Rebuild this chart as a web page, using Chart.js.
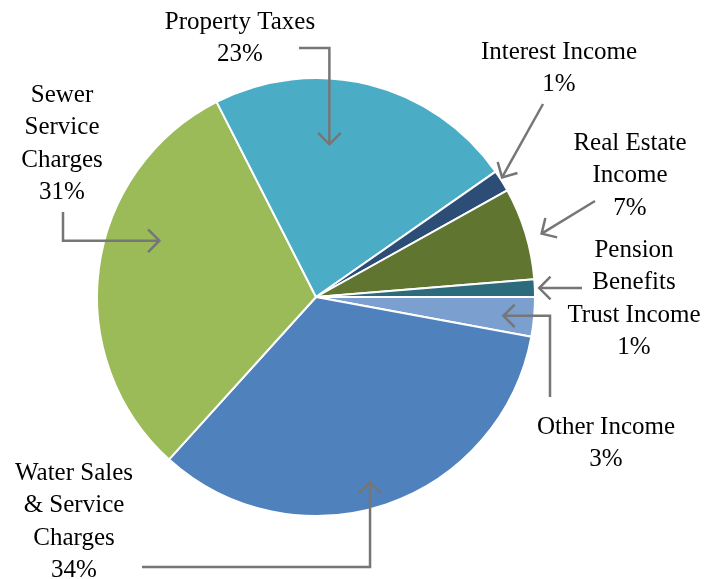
<!DOCTYPE html>
<html lang="en">
<head>
  <meta charset="UTF-8" />
  <title>Revenue Sources</title>
  <script src="https://cdn.jsdelivr.net/npm/chart.js"></script>
  <style>
    html, body { margin: 0; padding: 0; background: #fff; }
    #chart { display: block; }
  </style>
</head>
<body>
  <canvas id="chart" width="715" height="579"></canvas>

  <script>
    // data (slice shares in %, clockwise from 3 o'clock)
    const categories = ['Other Income', 'Water Sales & Service Charges', 'Sewer Service Charges',
                        'Property Taxes', 'Interest Income', 'Real Estate Income', 'Pension Benefits Trust Income'];
    const shares = [2.9, 33.8, 30.8, 22.8, 1.6, 6.8, 1.3];
    const shareLabels = ['3%', '34%', '31%', '23%', '1%', '7%', '1%'];
    const colors = ['#7B9FCE', '#4F81BD', '#9BBB59', '#4BACC6', '#2C4D75', '#5F7530', '#2B6B7B'];

    // label text lines per slice
    const labelLines = [
      ['Other Income'],
      ['Water Sales', '& Service', 'Charges'],
      ['Sewer', 'Service', 'Charges'],
      ['Property Taxes'],
      ['Interest Income'],
      ['Real Estate', 'Income'],
      ['Pension', 'Benefits', 'Trust Income']
    ];

    // where labels sit and how leader lines run (t = position inside slice, rf = radius fraction)
    const labelLayout = [
      { x: 606, y: 427, t: 0.55, rf: 0.86, start: [550, 397], elbow: 'vertical' },
      { x: 74,  y: 473, t: 0.52, rf: 0.88, start: [142, 567], elbow: 'horizontal' },
      { x: 62,  y: 95,  t: 0.61, rf: 0.76, start: [63, 212],  elbow: 'vertical' },
      { x: 240, y: 22,  t: 0.39, rf: 0.70, start: [299, 48],  elbow: 'horizontal' },
      { x: 559, y: 52,  t: 0.38, rf: 1.01, start: [543, 104] },
      { x: 630, y: 143, t: 0.55, rf: 1.07, start: [595, 201] },
      { x: 634, y: 250, t: 0.51, rf: 1.02, start: [582, 288] }
    ];

    const FONT = '25px "Liberation Serif", "Times New Roman", serif';
    const LINE_H = 32.5;

    function drawArrowHead(ctx, from, tip) {
      const ang = Math.atan2(tip[1] - from[1], tip[0] - from[0]);
      const len = 16;
      ctx.beginPath();
      ctx.moveTo(tip[0] - len * Math.cos(ang - Math.PI / 4), tip[1] - len * Math.sin(ang - Math.PI / 4));
      ctx.lineTo(tip[0], tip[1]);
      ctx.lineTo(tip[0] - len * Math.cos(ang + Math.PI / 4), tip[1] - len * Math.sin(ang + Math.PI / 4));
      ctx.stroke();
    }

    const calloutPlugin = {
      id: 'callouts',
      afterDraw(chart) {
        const ctx = chart.ctx;
        const arcs = chart.getDatasetMeta(0).data;
        ctx.save();
        ctx.font = FONT;
        ctx.fillStyle = '#000';
        ctx.textAlign = 'center';
        ctx.textBaseline = 'middle';
        ctx.strokeStyle = '#767676';
        ctx.lineWidth = 2.5;
        ctx.lineJoin = 'miter';

        arcs.forEach((arc, i) => {
          const lay = labelLayout[i];
          const p = arc.getProps(['x', 'y', 'startAngle', 'endAngle', 'outerRadius'], true);
          const a = p.startAngle + lay.t * (p.endAngle - p.startAngle);
          const tip = [p.x + Math.cos(a) * p.outerRadius * lay.rf, p.y + Math.sin(a) * p.outerRadius * lay.rf];

          // leader line
          const pts = [lay.start];
          if (lay.elbow === 'horizontal') pts.push([tip[0], lay.start[1]]);
          if (lay.elbow === 'vertical') pts.push([lay.start[0], tip[1]]);
          pts.push(tip);
          ctx.beginPath();
          ctx.moveTo(pts[0][0], pts[0][1]);
          for (let k = 1; k < pts.length; k++) ctx.lineTo(pts[k][0], pts[k][1]);
          ctx.stroke();
          drawArrowHead(ctx, pts[pts.length - 2], tip);

          // label text
          const lines = labelLines[i].concat([shareLabels[i]]);
          lines.forEach((ln, k) => ctx.fillText(ln, lay.x, lay.y + k * LINE_H));
        });
        ctx.restore();
      }
    };

    new Chart(document.getElementById('chart'), {
      type: 'pie',
      data: {
        labels: categories,
        datasets: [{
          data: shares,
          backgroundColor: colors,
          borderColor: '#ffffff',
          borderWidth: 2
        }]
      },
      options: {
        responsive: false,
        animation: false,
        rotation: 90,
        layout: { padding: { top: 77, bottom: 62, left: 96, right: 179 } },
        plugins: {
          legend: { display: false },
          tooltip: { enabled: false }
        }
      },
      plugins: [calloutPlugin]
    });
  </script>
</body>
</html>
